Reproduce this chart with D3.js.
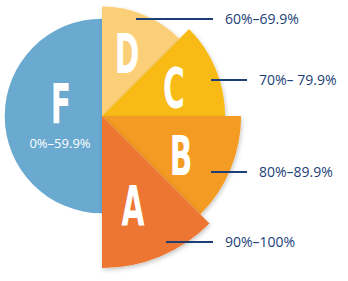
<!DOCTYPE html>
<html>
<head>
<meta charset="utf-8">
<script src="https://cdn.jsdelivr.net/npm/d3@7"></script>
<style>
  body { margin: 0; background: #fff; }
  svg { display: block; }
</style>
</head>
<body>
<svg id="chart" width="348" height="281"></svg>
<script>
// --------------------------------------------------------------------------------------
// data
// --------------------------------------------------------------------------------------
var grades = ["D", "C", "B", "A", "F"];
var ranges = ["60%–69.9%", "70%– 79.9%", "80%–89.9%", "90%–100%", "0%–59.9%"];
var shares = [1, 1, 1, 1, 4];                       // angular share of each slice
var reach = [0.72, 0.81, 0.915, 1.0, 0.64];         // relative radius of each slice
var colors = ["#fbcf78", "#f8bb18", "#f39b20", "#ed7630", "#6aa9d0"];

// --------------------------------------------------------------------------------------
var svg = d3.select("#chart");
var cx = 102, cy = 116;

var r = d3.scaleLinear().domain([0, 1]).range([0, 152]);

var defs = svg.append("defs");
var filter = defs.append("filter")
  .attr("id", "shadow")
  .attr("x", "-20%").attr("y", "-20%")
  .attr("width", "140%").attr("height", "140%");
filter.append("feDropShadow")
  .attr("dx", 1).attr("dy", 2)
  .attr("stdDeviation", 2)
  .attr("flood-color", "#000")
  .attr("flood-opacity", 0.22);

var pie = d3.pie().sort(null).value(function(d) { return d; });
var arcs = pie(shares);

var arc = d3.arc()
  .innerRadius(0)
  .outerRadius(function(d, i) { return r(reach[d.index]); });

var g = svg.append("g").attr("transform", "translate(" + cx + "," + cy + ")");

// draw F first, then D..A so later slices overlap earlier ones
var order = [4, 0, 1, 2, 3];
order.forEach(function(i) {
  g.append("path")
    .attr("d", arc(arcs[i]))
    .attr("fill", colors[i])
    .attr("filter", i == 4 ? null : "url(#shadow)");
});

// ==================================================
// big grade letters
var letter_pos = [
  { dx: 25, dy: -63 },    // D
  { dx: 72, dy: -29 },    // C
  { dx: 79, dy: 39 },     // B
  { dx: 31, dy: 89 },     // A
  { dx: -41, dy: -13 }    // F
];

grades.forEach(function(d, i) {
  g.append("text")
    .attr("transform", "translate(" + letter_pos[i].dx + "," + letter_pos[i].dy + ") scale(0.6,1)")
    .attr("text-anchor", "middle")
    .attr("dy", "0.36em")
    .style("font-family", "'Liberation Sans Narrow', 'DejaVu Sans Condensed', sans-serif")
    .style("font-weight", "bold")
    .style("font-size", "55px")
    .style("fill", "white")
    .text(d);
});

// F range label inside the blue half
g.append("text")
  .attr("x", -42)
  .attr("y", 27)
  .attr("dy", "0.35em")
  .attr("text-anchor", "middle")
  .style("font-family", "'Open Sans', sans-serif")
  .style("font-size", "13px")
  .style("fill", "white")
  .text(ranges[4]);

// ==================================================
// leader lines and range labels for D, C, B, A
var leaders = [
  { x1: 136, x2: 213, y: 19, tx: 225 },
  { x1: 211, x2: 247, y: 80, tx: 259 },
  { x1: 211, x2: 247, y: 172, tx: 259 },
  { x1: 166, x2: 213, y: 242, tx: 225 }
];

leaders.forEach(function(l, i) {
  svg.append("line")
    .attr("x1", l.x1).attr("x2", l.x2)
    .attr("y1", l.y).attr("y2", l.y)
    .style("stroke", "#1c3f78")
    .style("stroke-width", 2.2);

  svg.append("text")
    .attr("x", l.tx)
    .attr("y", l.y)
    .attr("dy", "0.35em")
    .style("font-family", "'Open Sans', sans-serif")
    .style("font-size", "14px")
    .style("fill", "#1c3f78")
    .text(ranges[i]);
});
</script>
</body>
</html>
